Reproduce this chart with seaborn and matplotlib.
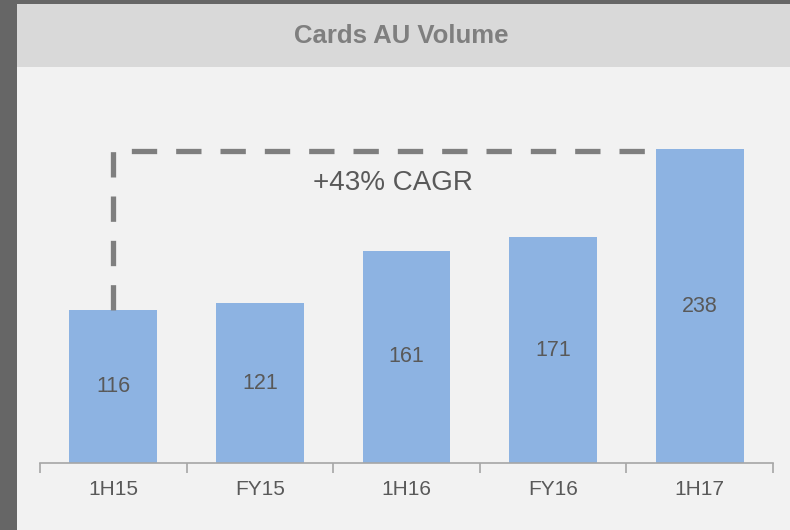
import matplotlib
matplotlib.use("Agg")
import matplotlib.pyplot as plt
from matplotlib.patches import Rectangle
import seaborn as sns

categories = ["1H15", "FY15", "1H16", "FY16", "1H17"]
volumes = [116, 121, 161, 171, 238]
title = "Cards AU Volume"
cagr_label = "+43% CAGR"
cagr_level = 236.5

sns.set_style("white")
plt.rcParams["font.family"] = ["Liberation Sans", "DejaVu Sans"]

fig = plt.figure(figsize=(7.9, 5.3), dpi=100)
fig.patch.set_facecolor("#f2f2f2")

# dark frame (left / top) and grey title band
fig.patches.append(Rectangle((0, 0), 17 / 790, 1, transform=fig.transFigure,
                             facecolor="#666666", edgecolor="none", zorder=0))
fig.patches.append(Rectangle((0, 1 - 4 / 530), 1, 4 / 530, transform=fig.transFigure,
                             facecolor="#666666", edgecolor="none", zorder=0))
fig.patches.append(Rectangle((17 / 790, 1 - 67 / 530), 1, 63 / 530, transform=fig.transFigure,
                             facecolor="#d9d9d9", edgecolor="none", zorder=0))
fig.text(401 / 790, 1 - 36 / 530, title, ha="center", va="center",
         fontsize=18.5, fontweight="bold", color="#7f7f7f")

ax = fig.add_axes([40 / 790, 1 - 463 / 530, 733 / 790, 383 / 530])
ax.set_facecolor("none")

sns.barplot(x=categories, y=volumes, color="#8db3e2", saturation=1,
            width=0.6, edgecolor="none", ax=ax)
ax.bar_label(ax.containers[0], label_type="center", fontsize=15.5, color="#595959")

ax.set_xlim(-0.5, len(categories) - 0.5)
ax.set_ylim(0, 290.4)

# dashed CAGR bracket from first bar to last bar
ax.plot([0, 0, len(categories) - 1 - 0.3], [volumes[0], cagr_level, cagr_level],
        color="#7f7f7f", lw=3.8, dashes=(4.8, 3.6), solid_capstyle="butt",
        dash_capstyle="butt", zorder=1)
ax.text(1.908, 212, cagr_label, ha="center", va="center", fontsize=20, color="#595959")

for side in ["left", "right", "top"]:
    ax.spines[side].set_visible(False)
ax.spines["bottom"].set_color("#a6a6a6")
ax.spines["bottom"].set_linewidth(1.2)
ax.set_yticks([])
ax.set_xticks(range(len(categories)))
ax.set_xticklabels(categories, fontsize=15, color="#595959")
ax.set_xticks([i - 0.5 for i in range(len(categories) + 1)], minor=True)
ax.tick_params(axis="x", which="major", length=0, pad=12)
ax.tick_params(axis="x", which="minor", bottom=True, length=7, width=1.2,
               color="#a6a6a6", direction="out")
ax.set_xlabel("")
ax.set_ylabel("")

fig.savefig("out.png", dpi=100, facecolor=fig.get_facecolor())
